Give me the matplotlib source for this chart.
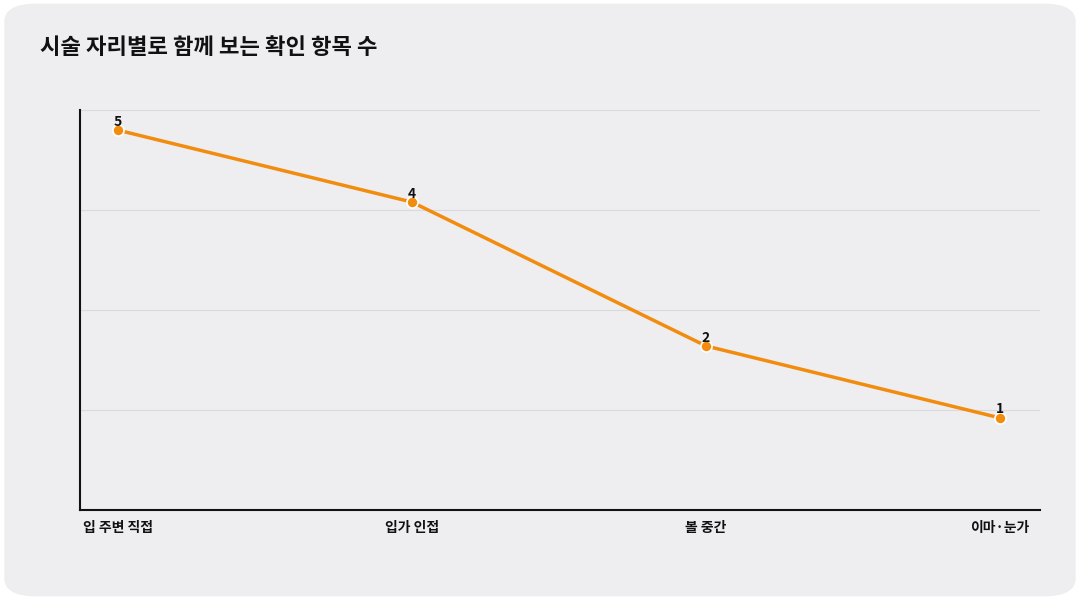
import matplotlib
matplotlib.use("Agg")
import matplotlib.pyplot as plt
from matplotlib.patches import FancyBboxPatch
import numpy as np

plt.rcParams['font.family'] = ['Noto Sans CJK KR', 'DejaVu Sans']

categories = ["입 주변 직접", "입가 인접", "볼 중간", "이마·눈가"]
values = [5, 4, 2, 1]
title = "시술 자리별로 함께 보는 확인 항목 수"

fig = plt.figure(figsize=(10.8, 6.0), dpi=100)
fig.patch.set_facecolor('white')
fig.patches.append(FancyBboxPatch((0.004, 0.006), 0.992, 0.988, boxstyle="round,pad=0,rounding_size=0.03",
                                  transform=fig.transFigure, facecolor='#eeeef1', edgecolor='none', zorder=-10))
ax = fig.add_axes([80/1080, 90/600, 960/1080, 400/600])
ax.set_facecolor('none')
x = np.arange(len(categories))
ax.plot(x, values, color='#f28c0f', lw=2.5, marker='o', ms=8, mfc='#f28c0f', mec='white', mew=1.2, zorder=3)
for xi, v in zip(x, values):
    ax.text(xi, v + 0.02, str(v), ha='center', va='bottom', fontsize=10, fontweight='bold', color='#111111', zorder=4)
ax.set_xlim(-0.129, 3.136)
ax.set_ylim(-0.28, 5.28)
ax.set_yticks(np.linspace(-0.28, 5.28, 5)[1:])
ax.set_yticklabels([])
ax.tick_params(axis='y', length=0)
ax.grid(axis='y', color='#d9d9de', lw=0.8)
ax.set_xticks(x)
ax.set_xticklabels(categories, fontsize=10, fontweight='bold', color='#111111')
ax.tick_params(axis='x', length=0, pad=8)
for s in ['top', 'right']:
    ax.spines[s].set_visible(False)
for s in ['left', 'bottom']:
    ax.spines[s].set_color('#111111')
    ax.spines[s].set_linewidth(1.5)
fig.text(40/1080, 1 - 48/600, title, fontsize=16, fontweight='bold', va='center', ha='left', color='#111111')
fig.savefig('out.png', dpi=100)
